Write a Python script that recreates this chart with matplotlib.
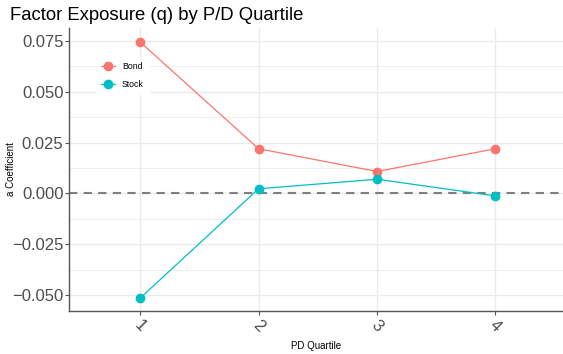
import matplotlib
matplotlib.use("Agg")
import matplotlib.pyplot as plt
from matplotlib.ticker import FixedLocator

plt.rcParams['font.family'] = ['Liberation Sans', 'DejaVu Sans']

quartiles = [1, 2, 3, 4]
quartile_labels = ["1", "2", "3", "4"]
bond = [0.0745, 0.0220, 0.0108, 0.0220]
stock = [-0.0515, 0.0023, 0.0070, -0.0012]

fig = plt.figure(figsize=(5.63, 3.54), dpi=100)
ax = fig.add_axes([0.1226, 0.1215, 0.8774, 0.7995])

ax.set_xlim(0.4, 4.57)
ax.set_ylim(-0.0578, 0.0814)

grid_col = "#EBEBEB"
ax.yaxis.set_major_locator(FixedLocator([-0.05, -0.025, 0.0, 0.025, 0.05, 0.075]))
ax.yaxis.set_minor_locator(FixedLocator([-0.0375, -0.0125, 0.0125, 0.0375, 0.0625]))
ax.xaxis.set_major_locator(FixedLocator(quartiles))
ax.grid(which="major", color=grid_col, linewidth=1.0)
ax.grid(which="minor", axis="y", color=grid_col, linewidth=0.6)
ax.set_axisbelow(True)

ax.axhline(0, color="#7F7F7F", linestyle=(0, (4, 3)), linewidth=1.5, zorder=1.5)

ax.plot(quartiles, bond, color="#F8766D", linewidth=0.9, marker="o",
        markersize=6, label="Bond", zorder=3)
ax.plot(quartiles, stock, color="#00BFC4", linewidth=0.9, marker="o",
        markersize=6, label="Stock", zorder=3)

ax.set_xticks(quartiles)
ax.set_xticklabels(quartile_labels, rotation=-45, ha="center", va="top")
ax.set_yticklabels(["\u22120.050", "\u22120.025", "0.000", "0.025", "0.050", "0.075"])

for side in ["top", "right"]:
    ax.spines[side].set_visible(False)
for side in ["left", "bottom"]:
    ax.spines[side].set_color("#555555")
    ax.spines[side].set_linewidth(1.0)

ax.tick_params(axis="both", which="major", colors="#555555", length=3,
               width=0.8, labelsize=12, labelcolor="#4D4D4D")
ax.tick_params(axis="y", which="minor", length=0)
ax.tick_params(axis="y", pad=1)
ax.tick_params(axis="x", pad=2)

ax.set_xlabel("PD Quartile", fontsize=7)
ax.xaxis.set_label_coords(0.5, -0.105)
ax.set_ylabel("a Coefficient", fontsize=7)
ax.yaxis.set_label_coords(-0.108, 0.5)
ax.set_title("Factor Exposure (q) by P/D Quartile", fontsize=13.3, loc="left",
             x=-0.119, pad=6)

leg = ax.legend(loc="upper left", bbox_to_anchor=(0.045, 0.913), fontsize=6.3,
                frameon=True, facecolor="white", edgecolor="white",
                framealpha=1.0, handlelength=1.6, handletextpad=0.8,
                labelspacing=1.0, borderpad=0.6)

fig.savefig("out.png", dpi=100)
